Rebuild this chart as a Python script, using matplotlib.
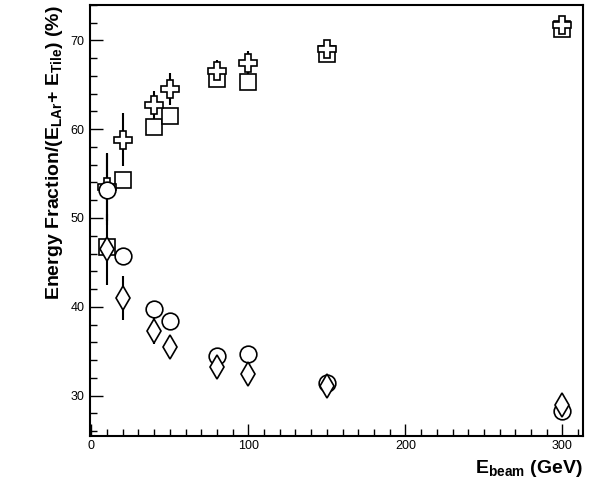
import matplotlib
matplotlib.use("Agg")
import matplotlib.pyplot as plt
from matplotlib.ticker import MultipleLocator

plt.rcParams['font.family'] = ['Liberation Sans', 'DejaVu Sans']
plt.rcParams['mathtext.fontset'] = 'custom'
plt.rcParams['mathtext.bf'] = 'Liberation Sans:bold'
plt.rcParams['mathtext.rm'] = 'Liberation Sans'

energy = [10, 20, 40, 50, 80, 100, 150, 300]
sq = [46.7, 54.3, 60.2, 61.5, 65.6, 65.3, 68.5, 71.3]
sq_err = [0.5, 0.5, 0.5, 0.5, 0.5, 0.5, 0.5, 0.5]
cr = [53.5, 58.8, 62.7, 64.5, 66.5, 67.5, 69.0, 71.7]
cr_err = [3.8, 3.0, 1.6, 1.8, 1.3, 1.3, 1.0, 0.8]
ci = [53.2, 45.7, 39.8, 38.4, 34.5, 34.7, 31.4, 28.3]
ci_err = [4.0, 0.5, 0.5, 0.5, 0.5, 0.5, 0.5, 0.5]
di = [46.5, 41.0, 37.3, 35.5, 33.2, 32.4, 31.1, 28.9]
di_err = [4.0, 2.5, 1.5, 1.0, 0.6, 0.6, 0.5, 0.5]

fig = plt.figure(figsize=(5.9, 4.84), dpi=100)
ax = fig.add_axes([0.152, 0.1, 0.836, 0.89])
for y, e, m, ms in [(sq, sq_err, 's', 11), (cr, cr_err, 'P', 13), (ci, ci_err, 'o', 12), (di, di_err, 'd', 12)]:
    ax.errorbar(energy, y, yerr=e, fmt=m, ms=ms, mfc='white', mec='black', mew=1.2,
                ecolor='black', elinewidth=1.5, capsize=0, zorder=3)
ax.set_xlim(-1, 313)
ax.set_ylim(25.5, 74)
ax.xaxis.set_major_locator(MultipleLocator(100))
ax.xaxis.set_minor_locator(MultipleLocator(10))
ax.yaxis.set_major_locator(MultipleLocator(10))
ax.yaxis.set_minor_locator(MultipleLocator(2))
ax.tick_params(which='both', direction='in', top=False, right=False, labelsize=9)
ax.tick_params(which='major', length=9, width=1)
ax.tick_params(which='minor', length=5, width=1)
for s in ax.spines.values():
    s.set_linewidth(1.5)
ax.set_xlabel(r'$\mathbf{E_{beam}}$ (GeV)', fontsize=14, fontweight='bold', loc='right')
ax.set_ylabel(r'Energy Fraction/($\mathbf{E_{LAr}}$+ $\mathbf{E_{Tile}}$) (%)', fontsize=14, fontweight='bold', loc='top')
fig.savefig('out.png')
